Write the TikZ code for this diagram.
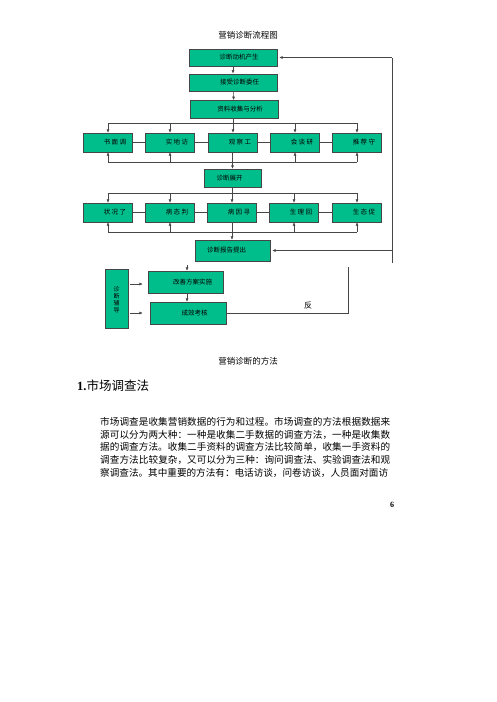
\documentclass[tikz,border=0pt]{standalone}
\usepackage{fontspec}
\setmainfont{Liberation Serif}
\newfontfamily\cjk{Noto Sans CJK SC}
\usetikzlibrary{arrows.meta}
\definecolor{boxgreen}{RGB}{0,190,140}
\definecolor{linegray}{RGB}{70,70,70}
\XeTeXlinebreaklocale "zh"
\XeTeXlinebreakskip = 0pt plus 1pt

\begin{document}
\begin{tikzpicture}[
    x = 1pt, y = -1pt,
    every node/.style = {font = \cjk\fontsize{6.5}{7.5}\selectfont},
    box/.style = {draw = linegray, fill = boxgreen, inner sep = 0pt, minimum height = 19pt},
    widebox/.style = {box, minimum width = 88pt, minimum height = 17.5pt},
    rowbox/.style = {box, minimum width = 49pt},
    link/.style = {draw = linegray, line width = 0.5pt},
    arr/.style = {link, -{Latex[length = 3.5pt, width = 3pt]}}
  ]
  \useasboundingbox (0,0) rectangle (496,702);

  \node[font = \cjk\fontsize{8.5}{10}\selectfont] (title) at (248,35) {营销诊断流程图};

  \node[widebox] (motive)  at (233,57.5) {\hspace*{12pt}诊断动机产生};
  \node[widebox] (accept)  at (233,82.5) {\hspace*{13pt}接受诊断委任};
  \node[widebox] (collect) at (234,109)  {\hspace*{12pt}资料收集与分析};

  \foreach \name/\x/\txt in {survey/108/书\ 面\ 调, visit/170/实\ 地\ 访,
      observe/233/观\ 察\ 工, talk/295/会\ 谈\ 研, recommend/357/推\ 荐\ 守}
    \node[rowbox] (\name) at (\x,142.5) {\hspace*{14pt}\txt};

  \node[box, minimum width = 57pt, minimum height = 18pt] (unfold) at (232.5,178) {诊断展开\hspace*{6pt}};

  \foreach \name/\x/\txt in {state/108/状\ 况\ 了, judge/170/病\ 态\ 判,
      cause/232/病\ 因\ 寻, recover/294/生\ 理\ 回, promote/357/生\ 态\ 促}
    \node[rowbox] (\name) at (\x,212.5) {\hspace*{14pt}\txt};

  \node[box, minimum width = 75pt, minimum height = 21pt] (report) at (232.5,250.5) {诊断报告提出\hspace*{12pt}};
  \node[box, minimum width = 75pt, minimum height = 22pt] (plan)   at (185.5,282)   {\hspace*{14pt}改善方案实施};
  \node[box, minimum width = 76pt, minimum height = 22pt] (check)  at (188,313)     {\hspace*{13pt}成效考核};
  \node[box, minimum width = 23pt, minimum height = 59pt, align = center,
        font = \cjk\fontsize{6}{7}\selectfont] (coach) at (116.5,298.5) {~\\诊\\断\\辅\\导};

  % split and join lines
  \coordinate (fan1)  at (233,123);
  \coordinate (join1) at (233,162);
  \coordinate (fan2)  at (233,193);
  \coordinate (join2) at (233,232);
  \coordinate (back)  at (392,263);
  \coordinate (planin) at (187,265);
  \coordinate (fb)    at (348,267);

  \draw[arr] (motive) -- (accept);
  \draw[arr] (accept) -- (collect);
  \draw[link] (collect.south -| fan1) -- (fan1);
  \draw[link] (survey.north |- fan1) -- (recommend.north |- fan1);
  \foreach \name in {survey, visit, observe, talk, recommend}
    \draw[arr] (\name.north |- fan1) -- (\name.north);
  \draw[link] (survey) -- (visit) -- (observe) -- (talk) -- (recommend);
  \draw[link] (survey.south |- join1) -- (recommend.south |- join1);
  \foreach \name in {survey, visit, talk, recommend}
    \draw[arr] (\name.south |- join1) -- (\name.south);
  \draw[arr] (observe.south -| unfold.north) -- (unfold.north);

  \draw[link] (unfold.south) -- (unfold.south |- fan2);
  \draw[link] (state.north |- fan2) -- (promote.north |- fan2);
  \foreach \name in {state, judge, cause, recover, promote}
    \draw[arr] (\name.north |- fan2) -- (\name.north);
  \draw[link] (state) -- (judge) -- (cause) -- (recover) -- (promote);
  \draw[link] (state.south |- join2) -- (promote.south |- join2);
  \foreach \name in {state, judge, recover, promote}
    \draw[arr] (\name.south |- join2) -- (\name.south);
  \draw[arr] (cause.south) -- (cause.south |- report.north);

  % feedback
  \draw[link] (back) -- (back |- motive);
  \draw[arr, shorten >= 2pt] (back |- motive) -- (motive);
  \draw[arr, shorten >= 2pt] (back |- report) -- (report);

  \draw[arr] (planin) -- (planin |- plan.north);
  \draw[arr] (planin |- plan.south) -- (planin |- check.north);
  \draw[arr, shorten <= 2pt, shorten >= 5pt] (coach.east |- 0,284) -- (plan.west |- 0,284);
  \draw[arr, shorten <= 2pt, shorten >= 7pt] (coach.east |- check) -- (check.west);
  \draw[link] (check.east) -- (check.east -| fb) -- (fb);
  \node[font = \cjk\fontsize{8}{9}\selectfont] (fan) at (308,306) {反};

  % Text
  \begin{scope}[nodes = {inner sep = 0pt}]
    \node[font = \cjk\fontsize{8.5}{10}\selectfont] (method) at (248,361) {营销诊断的方法};
    \node[anchor = west, font = \fontsize{12.5}{14}\selectfont] (head) at (77,386)
      {\textbf{1.}{\cjk 市场调查法}};
    \node[anchor = north west, text width = 290pt, align = justify,
          font = \cjk\fontsize{9.6}{12.8}\selectfont] (para) at (100,417)
      {\noindent 市场调查是收集营销数据的行为和过程。市场调查的方法根据数据来\linebreak
       源可以分为两大种：一种是收集二手数据的调查方法，一种是收集数\linebreak
       据的调查方法。收集二手资料的调查方法比较简单，收集一手资料的\linebreak
       调查方法比较复杂，又可以分为三种：询问调查法、实验调查法和观\linebreak
       察调查法。其中重要的方法有：电话访谈，问卷访谈，人员面对面访};
    \node[font = \fontsize{8}{9}\selectfont\bfseries] (page) at (392,505) {6};
  \end{scope}
\end{tikzpicture}
\end{document}
